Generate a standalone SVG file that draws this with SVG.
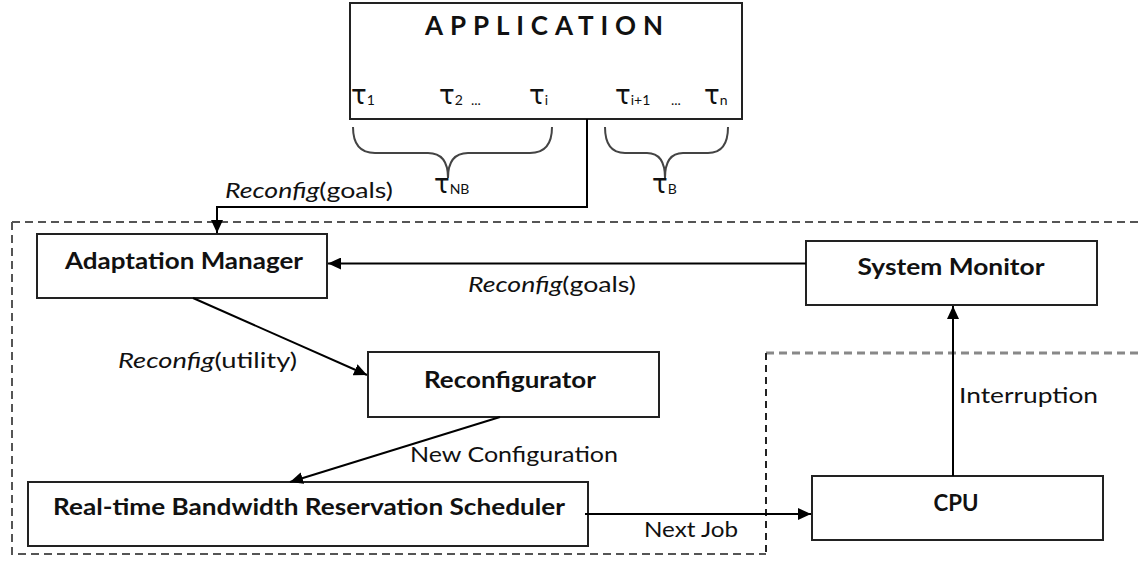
<svg xmlns="http://www.w3.org/2000/svg" width="1141" height="561" viewBox="0 0 1141 561">
<style>
.box{fill:#fff;stroke:#222;stroke-width:2}
.node{font-family:Lato,"Open Sans",sans-serif;font-weight:bold;font-size:22px;fill:#111;text-anchor:middle}
.lbl{font-family:Lato,"Open Sans",sans-serif;font-size:21px;fill:#111}
.tau{font-family:"DejaVu Sans",sans-serif;font-size:26px;fill:#111}
.sub{font-family:Lato,"Open Sans",sans-serif;font-size:14px;fill:#111}
.con{fill:none;stroke:#000;stroke-width:2}
.brace{fill:none;stroke:#444;stroke-width:2}
</style>
<defs>
<marker id="arr" markerUnits="userSpaceOnUse" markerWidth="14" markerHeight="12" refX="13" refY="6" orient="auto">
<path d="M0,0 L13,6 L0,12 Z" fill="#000"/>
</marker>
</defs>
<g id="boundaries">
<path d="M12,222 H1141 M12,222 V554 H766" fill="none" stroke="#555" stroke-width="2" stroke-dasharray="8,5"/>
<path d="M766,353 H1141" fill="none" stroke="#888" stroke-width="3" stroke-dasharray="8,5"/>
<path d="M766,353 V555" fill="none" stroke="#222" stroke-width="2" stroke-dasharray="7,5"/>
</g>
<g id="application">
<rect class="box" x="350" y="3" width="392" height="116"/>
<text x="425" y="35" font-family="Lato,'Open Sans',sans-serif" font-weight="bold" font-size="26" fill="#111" textLength="238" lengthAdjust="spacing">APPLICATION</text>
<text class="tau" x="351" y="104">τ<tspan class="sub" dy="1">1</tspan></text>
<text class="tau" x="439" y="104">τ<tspan class="sub" dy="1">2</tspan></text>
<text class="sub" x="471" y="105">...</text>
<text class="tau" x="529" y="104">τ<tspan class="sub" dy="1">i</tspan></text>
<text class="tau" x="615" y="104">τ<tspan class="sub" dy="1">i+1</tspan></text>
<text class="sub" x="671" y="105">...</text>
<text class="tau" x="704" y="104">τ<tspan class="sub" dy="1">n</tspan></text>
</g>
<g id="brace-nb">
<path class="brace" d="M353,127 Q353,153 375,153 L428,153 Q448,153 448,178 Q448,153 468,153 L530,153 Q552,153 552,127"/>
<text class="tau" x="434" y="193" font-size="20">τ<tspan class="sub" font-size="9" dy="1">NB</tspan></text>
</g>
<g id="brace-b">
<path class="brace" d="M605,127 Q605,153 625,153 L647,153 Q665,153 665,178 Q665,153 683,153 L708,153 Q728,153 728,127"/>
<text class="tau" x="652" y="193" font-size="20">τ<tspan class="sub" font-size="9" dy="1">B</tspan></text>
</g>
<g id="adaptation-manager">
<rect class="box" x="37" y="234" width="290" height="64"/>
<text class="node" x="184" y="269" textLength="238" lengthAdjust="spacingAndGlyphs">Adaptation Manager</text>
</g>
<g id="system-monitor">
<rect class="box" x="806" y="241" width="291" height="64"/>
<text class="node" x="951" y="275" textLength="187" lengthAdjust="spacingAndGlyphs">System Monitor</text>
</g>
<g id="reconfigurator">
<rect class="box" x="368" y="352" width="291" height="65"/>
<text class="node" x="510" y="388" textLength="172" lengthAdjust="spacingAndGlyphs">Reconfigurator</text>
</g>
<g id="scheduler">
<rect class="box" x="28" y="482" width="560" height="64"/>
<text class="node" x="309" y="515" textLength="512" lengthAdjust="spacingAndGlyphs">Real-time Bandwidth Reservation Scheduler</text>
</g>
<g id="cpu">
<rect class="box" x="812" y="476" width="291" height="64"/>
<text class="node" x="956" y="511" textLength="45" lengthAdjust="spacingAndGlyphs">CPU</text>
</g>
<g id="connectors">
<path class="con" d="M587,119 V207 H217 V233" marker-end="url(#arr)"/>
<path class="con" d="M806,263.5 H328" marker-end="url(#arr)"/>
<path class="con" d="M193,298 L367,375" marker-end="url(#arr)"/>
<path class="con" d="M500,417 L290,482" marker-end="url(#arr)"/>
<path class="con" d="M585,514 H811" marker-end="url(#arr)"/>
<path class="con" d="M953,476 V306" marker-end="url(#arr)"/>
<text class="lbl" x="225" y="198" textLength="168" lengthAdjust="spacingAndGlyphs"><tspan font-style="italic">Reconfig</tspan>(goals)</text>
<text class="lbl" x="468" y="292" textLength="168" lengthAdjust="spacingAndGlyphs"><tspan font-style="italic">Reconfig</tspan>(goals)</text>
<text class="lbl" x="118" y="368" textLength="179" lengthAdjust="spacingAndGlyphs"><tspan font-style="italic">Reconfig</tspan>(utility)</text>
<text class="lbl" x="410" y="462" textLength="208" lengthAdjust="spacingAndGlyphs">New Configuration</text>
<text class="lbl" x="959" y="403" textLength="139" lengthAdjust="spacingAndGlyphs">Interruption</text>
<text class="lbl" x="644" y="537" textLength="94" lengthAdjust="spacingAndGlyphs">Next Job</text>
</g>
</svg>
